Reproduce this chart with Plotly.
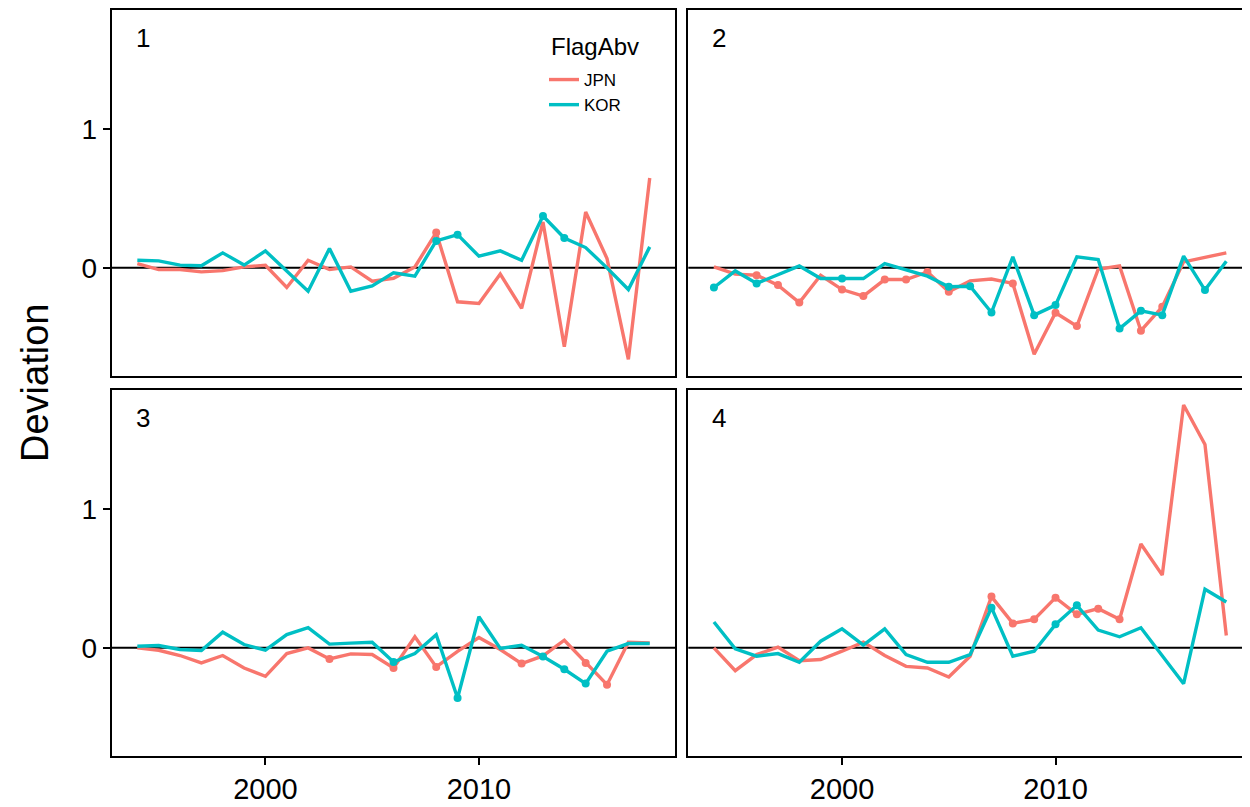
import plotly.graph_objects as go

years = list(range(1994, 2019))
panels = ["1", "2", "3", "4"]

jpn_1 = [0.03, -0.012, -0.012, -0.029, -0.02, 0.007, 0.019, -0.141, 0.055, -0.012, 0.007, -0.096, -0.075,
         0.007, 0.254, -0.244, -0.256, -0.045, -0.292, 0.33, -0.567, 0.402, 0.067, -0.658, 0.646]
kor_1 = [0.055, 0.05, 0.02, 0.015, 0.108, 0.02, 0.122, -0.02, -0.168, 0.139, -0.168, -0.13, -0.036,
         -0.06, 0.194, 0.239, 0.084, 0.122, 0.055, 0.373, 0.215, 0.146, 0.0, -0.156, 0.151]
jpn_2 = [0.007, -0.045, -0.053, -0.124, -0.249, -0.053, -0.156, -0.203, -0.084, -0.084, -0.029, -0.172, -0.094,
         -0.08, -0.112, -0.622, -0.323, -0.419, -0.01, 0.014, -0.452, -0.28, 0.043, 0.075, 0.108]
kor_2 = [-0.141, -0.022, -0.112, -0.05, 0.014, -0.077, -0.077, -0.077, 0.031, -0.014, -0.06, -0.136, -0.132,
         -0.321, 0.079, -0.34, -0.268, 0.079, 0.06, -0.436, -0.309, -0.34, 0.084, -0.16, 0.048]
jpn_3 = [0.0, -0.017, -0.055, -0.108, -0.055, -0.145, -0.205, -0.041, 0.0, -0.08, -0.043, -0.048, -0.145,
         0.08, -0.137, -0.025, 0.074, -0.012, -0.113, -0.058, 0.055, -0.108, -0.265, 0.041, 0.036]
kor_3 = [0.012, 0.017, -0.012, -0.019, 0.113, 0.024, -0.017, 0.096, 0.145, 0.027, 0.034, 0.04, -0.102,
         -0.041, 0.094, -0.361, 0.224, -0.004, 0.018, -0.062, -0.154, -0.257, -0.024, 0.031, 0.031]
jpn_4 = [0.0, -0.164, -0.048, 0.005, -0.092, -0.084, -0.024, 0.041, -0.055, -0.133, -0.145, -0.21, -0.06,
         0.369, 0.176, 0.205, 0.361, 0.241, 0.282, 0.205, 0.747, 0.523, 1.747, 1.463, 0.089]
kor_4 = [0.186, -0.007, -0.06, -0.041, -0.104, 0.048, 0.137, 0.019, 0.137, -0.048, -0.104, -0.104, -0.048,
         0.289, -0.06, -0.024, 0.169, 0.306, 0.128, 0.08, 0.145, -0.06, -0.258, 0.422, 0.33]

# years flagged with a point
jpn_pts_1 = [2008]
kor_pts_1 = [2008, 2009, 2013, 2014]
jpn_pts_2 = [1996, 1997, 1998, 2000, 2001, 2002, 2003, 2004, 2005, 2008, 2010, 2011, 2014, 2015]
kor_pts_2 = [1994, 1996, 2000, 2005, 2006, 2007, 2009, 2010, 2013, 2014, 2015, 2017]
jpn_pts_3 = [2003, 2006, 2008, 2012, 2015, 2016]
kor_pts_3 = [2006, 2009, 2013, 2014, 2015]
jpn_pts_4 = [2007, 2008, 2009, 2010, 2011, 2012, 2013]
kor_pts_4 = [2007, 2010, 2011]

y_ticks = [0, 1]
y_ticktext = ["0", "1"]
x_ticks = [2000, 2010]
x_ticktext = ["2000", "2010"]

JPN_C = "#F8766D"
KOR_C = "#00BFC4"
FONT = "Liberation Sans, Arial, sans-serif"

jpn = [jpn_1, jpn_2, jpn_3, jpn_4]
kor = [kor_1, kor_2, kor_3, kor_4]
jpn_pts = [jpn_pts_1, jpn_pts_2, jpn_pts_3, jpn_pts_4]
kor_pts = [kor_pts_1, kor_pts_2, kor_pts_3, kor_pts_4]

# page body has an 8px margin, so the figure is sized to fill the rest of the window
W, H = 1242, 799
px_per_year = 21.35
x0 = 1992.8
xl = [103.7, 680.3]
yt = [2, 382]
ph = 365.6
pw = 563.6

fig = go.Figure()

for i in range(4):
    col, row = i % 2, i // 2
    ax = "" if i == 0 else str(i + 1)
    xa, ya = "x" + ax, "y" + ax
    for name, vals, pts, c in (("JPN", jpn[i], jpn_pts[i], JPN_C), ("KOR", kor[i], kor_pts[i], KOR_C)):
        fig.add_trace(go.Scatter(x=years, y=vals, mode="lines", name=name, legendgroup=name,
                                 showlegend=(i == 0), line=dict(color=c, width=3.4),
                                 xaxis=xa, yaxis=ya))
        px = [y for y in years if y in pts]
        py = [vals[years.index(y)] for y in px]
        fig.add_trace(go.Scatter(x=px, y=py, mode="markers", legendgroup=name, showlegend=False,
                                 marker=dict(color=c, size=8), xaxis=xa, yaxis=ya, hoverinfo="skip"))

    left = xl[col]
    right = min(left + pw, W)
    xr = [x0, x0 + (right - left) / px_per_year]
    top = yt[row]
    bottom = top + ph
    xkey = "xaxis" + ax
    ykey = "yaxis" + ax
    fig.layout[xkey] = dict(domain=[left / W, right / W], range=xr, anchor=ya,
                            showgrid=False, zeroline=False, showline=True, mirror=True,
                            linecolor="black", linewidth=2,
                            tickvals=x_ticks, ticktext=x_ticktext,
                            ticks="outside" if row == 1 else "", ticklen=7, tickwidth=2, tickcolor="black",
                            showticklabels=(row == 1),
                            tickfont=dict(family=FONT, size=29, color="black"))
    fig.layout[ykey] = dict(domain=[(H - bottom) / H, (H - top) / H], range=[-0.775, 1.855], anchor=xa,
                            showgrid=False, zeroline=False, showline=True, mirror=(col == 0),
                            linecolor="black", linewidth=2,
                            tickvals=y_ticks, ticktext=y_ticktext,
                            ticks="outside" if col == 0 else "", ticklen=7, tickwidth=2, tickcolor="black",
                            showticklabels=(col == 0),
                            tickfont=dict(family=FONT, size=28, color="black"))
    fig.add_shape(type="line", xref=xa + " domain", yref=ya, x0=0, x1=1, y0=0, y1=0,
                  line=dict(color="black", width=2), layer="below")
    fig.add_annotation(text=panels[i], xref=xa + " domain", yref=ya + " domain",
                       x=31.3 / pw, y=1 - 28 / ph, xanchor="center", yanchor="middle", showarrow=False,
                       font=dict(family=FONT, size=26, color="black"))

fig.add_annotation(text="Deviation", xref="paper", yref="paper", x=27 / W, y=(H - 375) / H,
                   xanchor="center", yanchor="middle",
                   textangle=-90, showarrow=False, font=dict(family=FONT, size=38, color="black"))

fig.add_annotation(text="FlagAbv", xref="paper", yref="paper", x=541 / W, y=(H - 38) / H,
                   xanchor="left", yanchor="middle", showarrow=False,
                   font=dict(family=FONT, size=24, color="black"))

fig.update_layout(
    width=W, height=H, margin=dict(l=0, r=0, t=0, b=0),
    paper_bgcolor="white", plot_bgcolor="white",
    showlegend=True,
    legend=dict(x=536 / W, y=(H - 54) / H, xanchor="left", yanchor="top",
                bgcolor="rgba(0,0,0,0)", borderwidth=0,
                font=dict(family=FONT, size=17, color="black"),
                tracegroupgap=0, itemwidth=30),
)

fig.write_html("out.html")
